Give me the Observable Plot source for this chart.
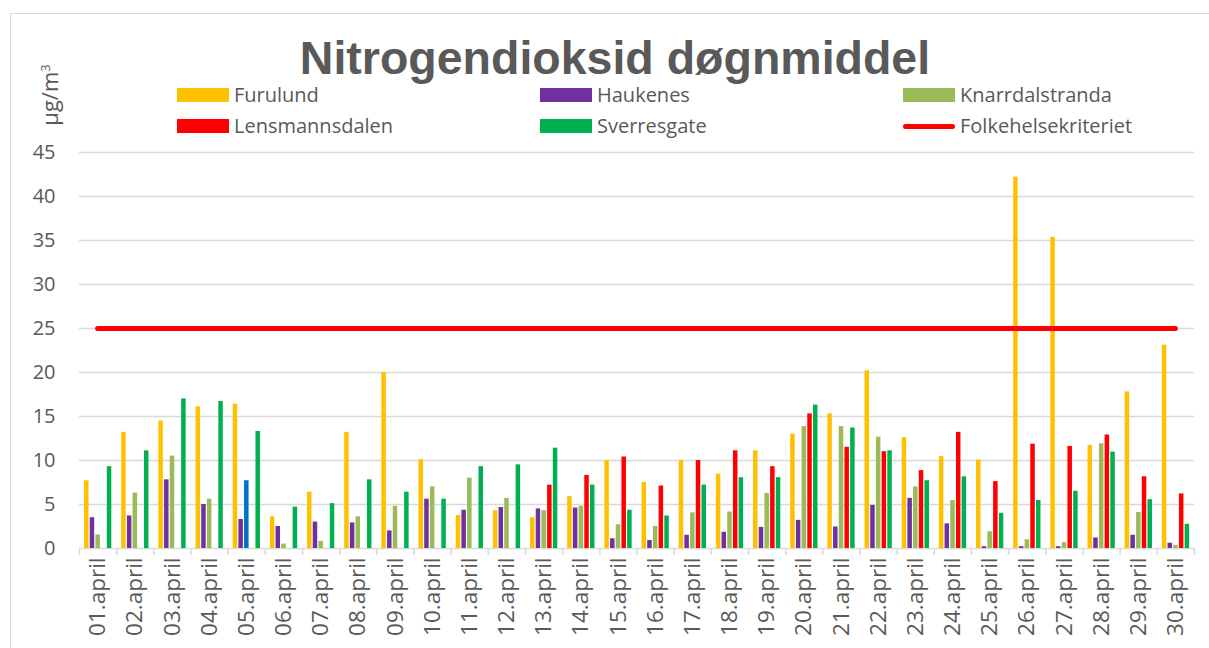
<!DOCTYPE html>
<html>
<head>
<meta charset="utf-8">
<script src="https://cdn.jsdelivr.net/npm/d3@7"></script>
<script src="https://cdn.jsdelivr.net/npm/@observablehq/plot@0.6"></script>
<style>
  html, body { margin: 0; padding: 0; background: #fff; }
  #wrap { position: relative; width: 1209px; height: 648px; overflow: hidden; background: #fff; }
  #frame { position: absolute; left: 10px; top: 13px; width: 1210px; height: 650px;
           border-left: 1.5px solid #d9d9d9; border-top: 1.5px solid #d9d9d9; }
  #title { position: absolute; left: 615px; top: 38px; transform: translateX(-50%);
           font: bold 46.5px "Liberation Sans", Arial, sans-serif; line-height: 40px; height: 40px;
           color: #595959; white-space: nowrap; }
  .lg { position: absolute; font: 20px "Open Sans", sans-serif; line-height: 20px; color: #595959; white-space: nowrap; }
  .sw { position: absolute; width: 52px; height: 14px; }
  #ylab { position: absolute; font: 22px "Open Sans", sans-serif; line-height: 22px; color: #595959;
          white-space: nowrap; width: 80px; height: 22px; text-align: center;
          left: 8.5px; top: 83.5px; transform: rotate(-90deg); }
  #ylab sup { font-size: 13px; vertical-align: 0.6em; line-height: 0; }
  #chart { position: absolute; left: 0; top: 132px; }
  #chart svg { overflow: visible; }
</style>
</head>
<body>
<div id="wrap">
  <div id="frame"></div>
  <div id="chart"></div>
  <div id="title"></div>
  <div id="ylab">µg/m<sup>3</sup></div>
  <div id="legend"></div>
</div>
<script>
// ---- data ----
const days = ["01.april","02.april","03.april","04.april","05.april","06.april","07.april","08.april","09.april","10.april",
              "11.april","12.april","13.april","14.april","15.april","16.april","17.april","18.april","19.april","20.april",
              "21.april","22.april","23.april","24.april","25.april","26.april","27.april","28.april","29.april","30.april"];
const seriesNames = ["Furulund","Haukenes","Knarrdalstranda","Lensmannsdalen","Sverresgate"];
const seriesColors = ["#FFC000","#7030A0","#9BBB59","#FF0000","#00B050"];

const furulund = [7.7,13.2,14.5,16.1,16.4,3.6,6.4,13.2,20.0,10.1,3.75,4.3,3.5,5.9,10.0,7.5,10.0,8.45,11.1,13.0,15.3,20.2,12.6,10.45,10.05,42.2,35.35,11.7,17.8,23.1];
const haukenes = [3.5,3.7,7.8,5.0,3.3,2.5,3.0,2.9,2.0,5.6,4.35,4.65,4.5,4.6,1.1,0.9,1.5,1.85,2.4,3.2,2.45,4.9,5.7,2.8,0.2,0.2,0.2,1.2,1.5,0.6];
const knarrdalstranda = [1.55,6.3,10.5,5.6,7.7,0.5,0.8,3.6,4.8,7.0,8.0,5.7,4.3,4.8,2.7,2.5,4.05,4.15,6.25,13.85,13.85,12.65,7.0,5.45,1.9,1.0,0.65,11.9,4.1,0.35];
const lensmannsdalen = [null,null,null,null,null,null,null,null,null,null,null,null,7.2,8.3,10.4,7.1,10.0,11.1,9.3,15.3,11.5,11.0,8.85,13.2,7.6,11.85,11.6,12.9,8.15,6.2];
const sverresgate = [9.3,11.1,17.0,16.7,13.3,4.7,5.1,7.8,6.4,5.6,9.3,9.5,11.4,7.2,4.35,3.7,7.2,8.05,8.05,16.3,13.7,11.1,7.7,8.15,4.0,5.45,6.5,10.95,5.55,2.75];
const seriesValues = [furulund, haukenes, knarrdalstranda, lensmannsdalen, sverresgate];

// one bar drawn in a different colour in the original
const highlighted = [{day: "05.april", series: "Knarrdalstranda", color: "#0070C0"}];

const criterionName = "Folkehelsekriteriet";
const criterionValue = 25;
const criterionColor = "#FF0000";
const yTicks = [0,5,10,15,20,25,30,35,40,45];
const titleText = "Nitrogendioksid døgnmiddel";

// ---- table ----
const rows = [];
days.forEach((day, i) => seriesNames.forEach((s, j) => {
  const v = seriesValues[j][i];
  if (v != null) {
    const h = highlighted.find(h => h.day === day && h.series === s);
    rows.push({day, i, j, series: s, value: v, color: h ? h.color : seriesColors[j]});
  }
}));

// ---- layout within one day (fractions of a day) ----
const PAD = 0.135, STEP = 0.1533, BW = 0.121;

// ---- title & legend ----
document.getElementById("title").textContent = titleText;
const legendItems = [
  {name: seriesNames[0], color: seriesColors[0], type: "rect", col: 0, row: 0},
  {name: seriesNames[1], color: seriesColors[1], type: "rect", col: 1, row: 0},
  {name: seriesNames[2], color: seriesColors[2], type: "rect", col: 2, row: 0},
  {name: seriesNames[3], color: seriesColors[3], type: "rect", col: 0, row: 1},
  {name: seriesNames[4], color: seriesColors[4], type: "rect", col: 1, row: 1},
  {name: criterionName, color: criterionColor, type: "line", col: 2, row: 1}
];
const colX = [177, 540, 903], rowTop = [85, 116];
const lg = document.getElementById("legend");
legendItems.forEach(it => {
  const sw = document.createElement("div");
  sw.className = "sw";
  sw.style.left = colX[it.col] + "px";
  if (it.type === "rect") {
    sw.style.top = (rowTop[it.row] + 3) + "px";
    sw.style.background = it.color;
  } else {
    sw.style.top = (rowTop[it.row] + 7.5) + "px";
    sw.style.height = "5px";
    sw.style.borderRadius = "3px";
    sw.style.background = it.color;
  }
  lg.appendChild(sw);
  const t = document.createElement("div");
  t.className = "lg";
  t.style.left = (colX[it.col] + 57) + "px";
  t.style.top = rowTop[it.row] + "px";
  t.textContent = it.name;
  lg.appendChild(t);
});

// ---- chart ----
const chart = Plot.plot({
  width: 1209,
  height: 516,
  marginTop: 20,
  marginBottom: 100,
  marginLeft: 79,
  marginRight: 15,
  style: {fontFamily: "'Open Sans', sans-serif", fontSize: "20px", color: "#595959", background: "transparent"},
  x: {type: "linear", domain: [0, days.length]},
  y: {domain: [0, 45]},
  marks: [
    Plot.gridY(yTicks, {stroke: "#d9d9d9", strokeOpacity: 1, strokeWidth: 1.5}),
    Plot.axisY(yTicks, {tickSize: 0, tickPadding: 24, fontSize: 20, fill: "#595959", label: null}),
    Plot.axisX(d3.range(0, days.length + 1), {tickSize: 7, tickFormat: () => "", stroke: "#d9d9d9", strokeWidth: 1.5, strokeOpacity: 1, label: null}),
    Plot.axisX(days.map((d, i) => i + 0.5), {tickSize: 0, tickPadding: 9, tickRotate: -90,
      tickFormat: t => days[Math.floor(t)], fontSize: 22.5, fill: "#595959", label: null}),
    Plot.rectY(rows, {
      x1: d => d.i + PAD + d.j * STEP,
      x2: d => d.i + PAD + d.j * STEP + BW,
      y1: 0,
      y2: "value",
      fill: "color"
    }),
    Plot.ruleY([criterionValue], {x1: 0.5, x2: days.length - 0.5, stroke: criterionColor, strokeWidth: 5, strokeLinecap: "round"})
  ]
});
document.getElementById("chart").appendChild(chart);
</script>
</body>
</html>
